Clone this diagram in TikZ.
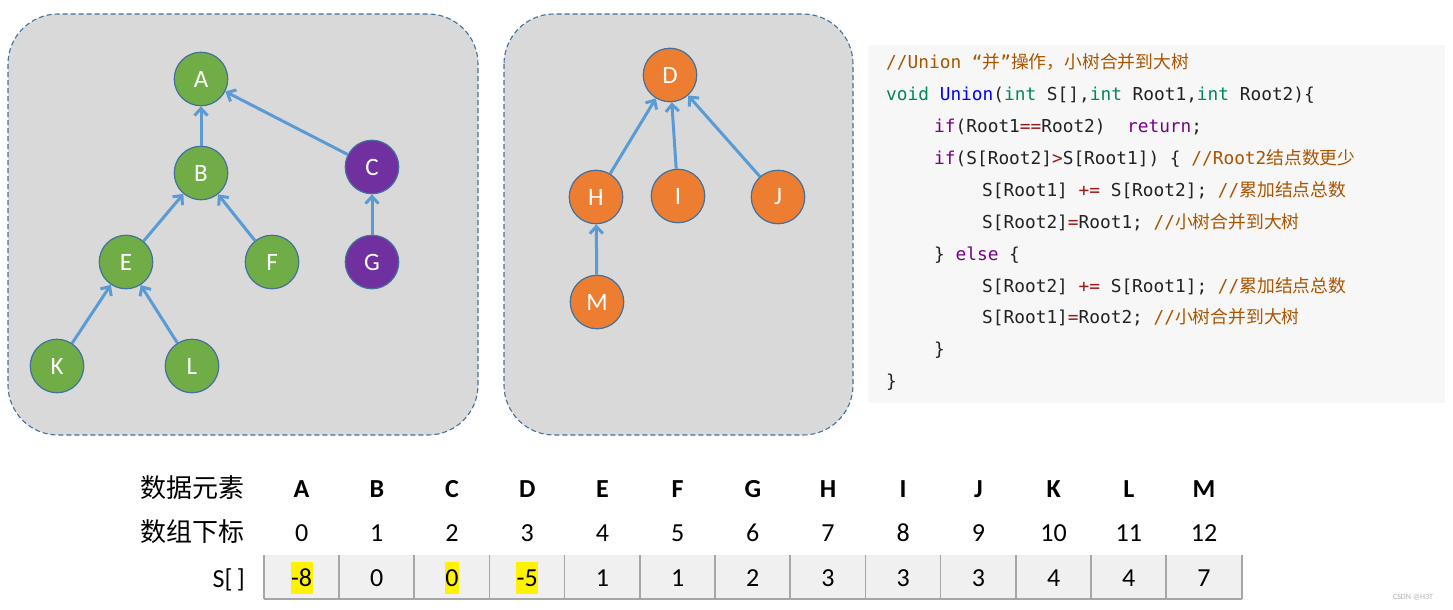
\documentclass[tikz,border=0pt]{standalone}
\usepackage{fontspec}
\setmainfont{Carlito}
\setmonofont{DejaVu Sans Mono}
\newfontfamily\cjk{Noto Sans CJK SC}
\usetikzlibrary{arrows.meta}
\definecolor{grn}{HTML}{70AD47}
\definecolor{prp}{HTML}{7030A0}
\definecolor{org}{HTML}{ED7D31}
\definecolor{ndline}{HTML}{41719C}
\definecolor{arrc}{HTML}{5B9BD5}
\definecolor{boxfill}{HTML}{D9D9D9}
\definecolor{codebg}{HTML}{F7F7F7}
\definecolor{cellc}{HTML}{F0F0F0}
\definecolor{sepc}{HTML}{A6A6A6}
\definecolor{txtc}{HTML}{222222}
\definecolor{cmtc}{HTML}{AA5500}
\definecolor{kwdc}{HTML}{770088}
\definecolor{typc}{HTML}{008855}
\definecolor{fnmc}{HTML}{0000FF}
\definecolor{oprc}{HTML}{981A1A}
\newcommand\cmt[1]{\textcolor{cmtc}{#1}}
\newcommand\kwd[1]{\textcolor{kwdc}{#1}}
\newcommand\typ[1]{\textcolor{typc}{#1}}
\newcommand\fnm[1]{\textcolor{fnmc}{#1}}
\newcommand\opr[1]{\textcolor{oprc}{#1}}
\tikzset{
  treebox/.style={draw=ndline,fill=boxfill,dashed,dash pattern=on 5pt off 3pt,line width=1.1pt,rounded corners=50pt},
  nd/.style={circle,draw=ndline,line width=1.2pt,minimum size=53.5pt,inner sep=0pt,text=white,font=\fontsize{25}{30}\selectfont},
  arr/.style={draw=arrc,line width=3pt,-{Straight Barb[length=7pt,width=13pt]}},
  codeln/.style={anchor=base west,inner sep=0pt,text=txtc,font=\ttfamily\fontsize{17.8}{20}\selectfont},
  cell/.style={rectangle,fill=cellc,minimum width=75.2pt,minimum height=44pt,inner sep=0pt},
  val/.style={anchor=base,inner xsep=0.5pt,inner ysep=4pt,text height=20pt,text depth=4pt,font=\fontsize{26}{30}\selectfont},
  hl/.style={fill=yellow},
  nohl/.style={},
  rowlbl/.style={anchor=base east,inner sep=0pt,font=\cjk\fontsize{26}{30}\selectfont},
}
\begin{document}
\begin{tikzpicture}[x=1pt,y=-1pt,line join=round]
\useasboundingbox (0,0) rectangle (1453,610);
% the two trees
\draw[treebox] (8,14) rectangle (478,435);
\draw[treebox] (504,14) rectangle (853,435);
\foreach \n/\x/\y/\c in {A/201/79/grn,B/201/173/grn,C/372/167/prp,E/126/262/grn,F/272/262/grn,G/372/262/prp,K/57/366/grn,L/192/366/grn,
  D/670/75/org,H/596/197/org,I/678/196/org,J/778/197/org,M/597/302/org}
  \node[nd,fill=\c] (\n) at (\x,\y) {\n};
\foreach \a/\b in {B/A,C/A,E/B,F/B,G/C,K/E,L/E,H/D,I/D,J/D,M/H}
  \draw[arr] (\a)--(\b);
% code
\fill[codebg] (868,45) rectangle (1445,403);
\node[codeln] (code1) at (886,68) {\cmt{//Union “{\cjk 并}”{\cjk 操作，小树合并到大树}}};
\node[codeln] (code2) at (886,100) {\typ{void} \fnm{Union}(\typ{int} S[],\typ{int} Root1,\typ{int} Root2)\{};
\node[codeln] (code3) at (934,132) {\kwd{if}(Root1\opr{==}Root2)\ \ \kwd{return};};
\node[codeln] (code4) at (934,164) {\kwd{if}(S[Root2]\opr{>}S[Root1]) \{ \cmt{//Root2{\cjk 结点数更少}}};
\node[codeln] (code5) at (982,196) {S[Root1] \opr{+=} S[Root2]; \cmt{//{\cjk 累加结点总数}}};
\node[codeln] (code6) at (982,228) {S[Root2]\opr{=}Root1; \cmt{//{\cjk 小树合并到大树}}};
\node[codeln] (code7) at (934,260) {\} \kwd{else} \{};
\node[codeln] (code8) at (982,292) {S[Root2] \opr{+=} S[Root1]; \cmt{//{\cjk 累加结点总数}}};
\node[codeln] (code9) at (982,323) {S[Root1]\opr{=}Root2; \cmt{//{\cjk 小树合并到大树}}};
\node[codeln] (code10) at (934,355) {\}};
\node[codeln] (code11) at (886,387) {\}};
% array
\node[rowlbl] (elem) at (245,497) {数据元素};
\node[rowlbl] (index) at (245,541) {数组下标};
\node[rowlbl,font=\fontsize{26}{30}\selectfont] (sarr) at (245,587) {S[\,]};
\foreach \l/\v/\h [count=\i from 0] in {A/-8/hl,B/0/nohl,C/0/hl,D/-5/hl,E/1/nohl,F/1/nohl,G/2/nohl,H/3/nohl,I/3/nohl,J/3/nohl,K/4/nohl,L/4/nohl,M/7/nohl}{
  \node[cell] (s\i) at ({301.6+75.2*\i},577) {};
  \node[val,\h] (v\i) at ({301.6+75.2*\i},586) {\v};
  \node[anchor=base,inner sep=0pt,font=\bfseries\fontsize{26}{30}\selectfont] (e\i) at ({301.6+75.2*\i},497) {\l};
  \node[anchor=base,inner sep=0pt,font=\fontsize{26}{30}\selectfont] (n\i) at ({301.6+75.2*\i},541) {\i};
  \draw[sepc,line width=1.5pt] (s\i.north west)--(s\i.south west);
}
\draw[sepc,line width=1.5pt] (s12.north east)--(s12.south east);
\draw[sepc,line width=2.5pt] (s0.south west)--(s12.south east);
\node[inner sep=0pt,text=black!30,font=\fontsize{8}{9}\selectfont] (mark) at (1413,597) {CSDN @H3T};
\end{tikzpicture}
\end{document}
